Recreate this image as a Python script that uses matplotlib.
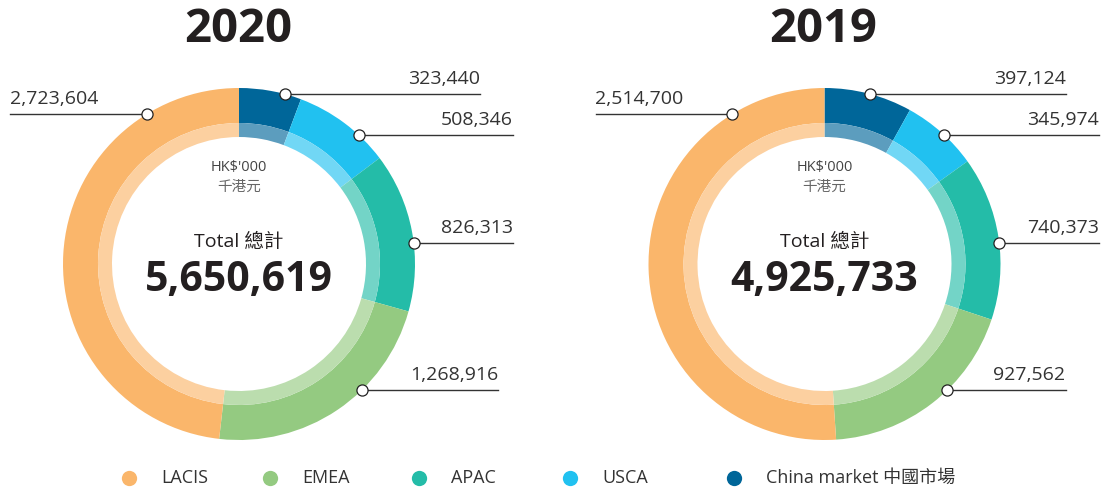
import numpy as np
import matplotlib
matplotlib.use("Agg")
import matplotlib.pyplot as plt
from matplotlib.colors import to_rgb

plt.rcParams['font.family'] = ['Open Sans', 'Noto Sans CJK TC', 'DejaVu Sans']

# ---------------- data ----------------
categories = ["China market 中國市場", "USCA", "APAC", "EMEA", "LACIS"]
values_2020 = [323440, 508346, 826313, 1268916, 2723604]
values_2019 = [397124, 345974, 740373, 927562, 2514700]
years = ["2020", "2019"]
legend_order = ["LACIS", "EMEA", "APAC", "USCA", "China market 中國市場"]
colors = {"China market 中國市場": "#006699", "USCA": "#21C1F0", "APAC": "#24BCA8",
          "EMEA": "#94CA81", "LACIS": "#FAB66B"}
unit_en = "HK$'000"
unit_zh = "千港元"
total_label = "Total 總計"

# ---------------- layout ----------------
W, H = 1107, 492
fig = plt.figure(figsize=(W / 100, H / 100), dpi=100)
ax = fig.add_axes([0, 0, 1, 1])

R = 176
band = 35
light_w = 14
cy_img = 264
centers_x = [239, 824.5]
# label line y (image px) per category, and line end x offsets from center
line_y = {"China market 中國市場": 94, "USCA": 135, "APAC": 243, "EMEA": 390, "LACIS": 114}
line_end = [{"China market 中國市場": 241, "USCA": 274, "APAC": 274, "EMEA": 259, "LACIS": -229},
            {"China market 中國市場": 241, "USCA": 274, "APAC": 274, "EMEA": 241, "LACIS": -229}]


def lighten(c, a=0.36):
    r, g, b = to_rgb(c)
    return (r + (1 - r) * a, g + (1 - g) * a, b + (1 - b) * a)


def Y(y_img):
    return H - y_img


for k, (year, vals) in enumerate(zip(years, [values_2020, values_2019])):
    cx = centers_x[k]
    cy = Y(cy_img)
    cols = [colors[c] for c in categories]
    ax.pie(vals, colors=cols, startangle=90, counterclock=False, radius=R,
           center=(cx, cy), wedgeprops=dict(width=band, linewidth=0))
    ax.pie(vals, colors=[lighten(c) for c in cols], startangle=90, counterclock=False,
           radius=R - band, center=(cx, cy), wedgeprops=dict(width=light_w, linewidth=0))

    # title
    ax.text(cx - 1, Y(29), year, ha='center', va='center', fontsize=34,
            fontweight='bold', color='#231f20')
    # center texts
    ax.text(cx, Y(168), unit_en, ha='center', va='center', fontsize=10.5, color='#444444')
    ax.text(cx, Y(187), unit_zh, ha='center', va='center', fontsize=10.5, color='#666666')
    ax.text(cx, Y(242), total_label, ha='center', va='center', fontsize=14, color='#231f20')
    ax.text(cx, Y(280), f"{sum(vals):,}", ha='center', va='center', fontsize=29.5,
            fontweight='bold', color='#231f20')

    # callouts
    for cat, v in zip(categories, vals):
        ly = Y(line_y[cat])
        dy = ly - cy
        dx = np.sqrt(R ** 2 - dy ** 2)
        end = cx + line_end[k][cat]
        if line_end[k][cat] > 0:
            dot_x = cx + dx
            ax.plot([dot_x, end], [ly, ly], color='#333333', lw=1, zorder=3)
            ax.text(end, ly + 10, f"{v:,}", ha='right', va='baseline', fontsize=14,
                    color='#333333')
        else:
            dot_x = cx - dx
            ax.plot([end, dot_x], [ly, ly], color='#333333', lw=1, zorder=3)
            ax.text(end, ly + 10, f"{v:,}", ha='left', va='baseline', fontsize=14,
                    color='#333333')
        ax.plot([dot_x], [ly], marker='o', ms=8, mfc='white', mec='#222222', mew=0.9, zorder=4)

# legend
leg_dot_x = [129, 270, 419, 570, 734]
for name, x in zip(legend_order, leg_dot_x):
    ax.plot([x], [Y(478)], marker='o', ms=11, mfc=colors[name], mec='none', zorder=4)
    ax.text(x + 32, Y(478), name, ha='left', va='center', fontsize=13, color='#333333')

ax.set_xlim(0, W)
ax.set_ylim(0, H)
ax.set_aspect('auto')
ax.axis('off')
fig.savefig("out.png", dpi=100)
